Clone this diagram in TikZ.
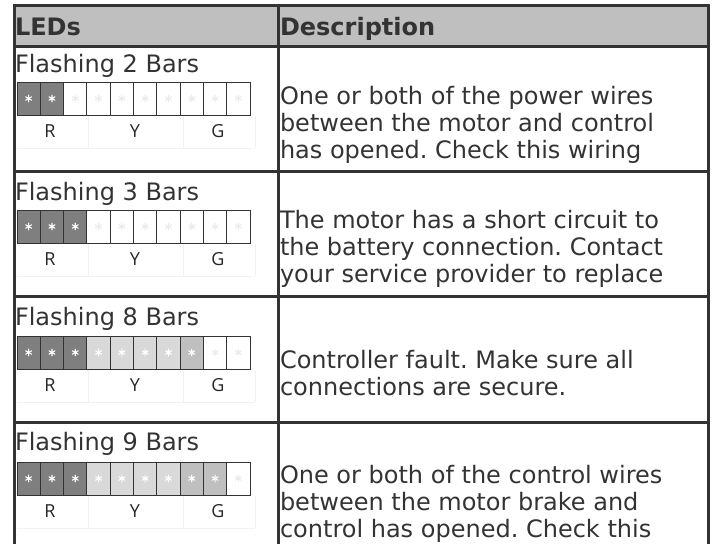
\documentclass[tikz,border=0pt]{standalone}
\usepackage{fontspec}
\setmainfont{DejaVu Sans}
\newfontfamily\lblfont{Open Sans}
\frenchspacing
\definecolor{ink}{HTML}{333333}
\definecolor{rule}{HTML}{333333}
\definecolor{headfill}{HTML}{BFBFBF}
\definecolor{ledR}{HTML}{7F7F7F}
\definecolor{ledY}{HTML}{D9D9D9}
\definecolor{ledG}{HTML}{BFBFBF}
\definecolor{ledW}{HTML}{FFFFFF}
\definecolor{astR}{HTML}{FFFFFF}
\definecolor{astY}{HTML}{FFFFFF}
\definecolor{astG}{HTML}{FFFFFF}
\definecolor{astW}{HTML}{EBEBEB}
\definecolor{faint}{HTML}{F2F2F2}
\tikzset{
  body/.style={font=\fontsize{24}{27}\selectfont, text=ink, inner sep=0pt, outer sep=0pt, anchor=base west},
  head/.style={body, font=\fontsize{24}{27}\selectfont\bfseries},
  desc/.style={body, align=left},
  led/.style={draw=rule, line width=0.9pt, minimum width=23.3pt, minimum height=33pt, inner sep=0pt, outer sep=0pt},
  lbl/.style={font=\lblfont\fontsize{18}{18}\selectfont, text=black!85, inner sep=0pt},
  tablerule/.style={line width=3pt, draw=rule},
  faintrule/.style={line width=0.8pt, draw=faint},
  astline/.style={line width=1.1pt, line cap=round}
}
\begin{document}
\begin{tikzpicture}[x=1pt,y=-1pt]
\useasboundingbox (0,0) rectangle (717,544);
% header band
\fill[headfill] (14.5,5.5) rectangle (708.5,46.5);
% table rules
\draw[tablerule] (13,5.5) -- (710,5.5);
\draw[tablerule] (13,46.5) -- (710,46.5);
\draw[tablerule] (13,171.5) -- (710,171.5);
\draw[tablerule] (13,296.5) -- (710,296.5);
\draw[tablerule] (13,422) -- (710,422);
\draw[tablerule] (14.5,4) -- (14.5,544);
\draw[tablerule] (278,4) -- (278,544);
\draw[tablerule] (708.5,4) -- (708.5,544);
% header texts
\node[head] (hleds) at (15,35) {LEDs};
\node[head] (hdesc) at (280,35) {Description};
% rows
\foreach \row/\num/\ty/\by/\pat in {
  1/2/72/82/{R,R,W,W,W,W,W,W,W,W},
  2/3/200/210/{R,R,R,W,W,W,W,W,W,W},
  3/8/325/336/{R,R,R,Y,Y,Y,Y,G,W,W},
  4/9/450/462/{R,R,R,Y,Y,Y,Y,G,G,W}}{
  \node[body] (title\row) at (15,\ty) {Flashing \num\ Bars};
  \foreach \c [count=\i] in \pat {
    \node[led, fill=led\c] (led\row-\i) at ({17+23.3*(\i-0.5)},{\by+16.5}) {};
    \draw[astline, draw=ast\c] (led\row-\i.center) +(90:3.4) -- +(270:3.4)
      +(30:3.4) -- +(210:3.4) +(150:3.4) -- +(330:3.4);
  }
  \draw[faintrule] (88,{\by+34}) -- (88,{\by+66}) (183,{\by+34}) -- (183,{\by+66})
    (255,{\by+34}) -- (255,{\by+66}) (17,{\by+66}) -- (255,{\by+66});
  \node[lbl] (lr\row) at (50,{\by+49}) {R};
  \node[lbl] (ly\row) at (135,{\by+49}) {Y};
  \node[lbl] (lg\row) at (218,{\by+49}) {G};
}
% descriptions (base anchor = baseline of the last line)
\node[desc] (d1) at (280,158) {One or both of the power wires\\between the motor and control\\has opened. Check this wiring};
\node[desc] (d2) at (280,282) {The motor has a short circuit to\\the battery connection. Contact\\your service provider to replace};
\node[desc] (d3) at (280,395) {Controller fault. Make sure all\\connections are secure.};
\node[desc] (d4) at (280,537) {One or both of the control wires\\between the motor brake and\\control has opened. Check this};
\end{tikzpicture}
\end{document}
